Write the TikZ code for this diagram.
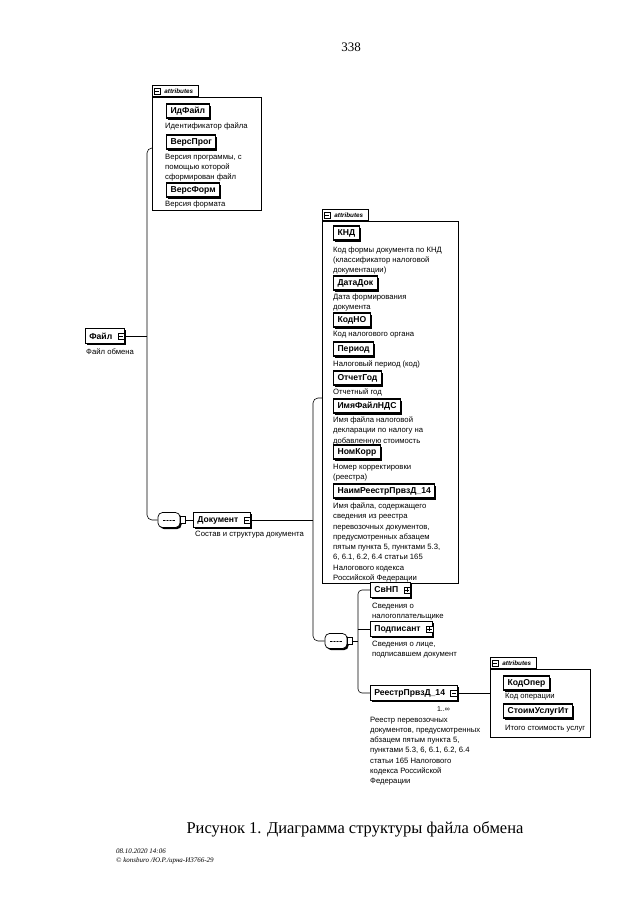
\documentclass[tikz,border=0pt]{standalone}
\usepackage{fontspec}
\setmainfont{Liberation Serif}
\newfontfamily\arialf{Liberation Sans}
\usetikzlibrary{shadows}
\tikzset{
 shad/.style={drop shadow={shadow xshift=1.6pt,shadow yshift=-1.6pt,opacity=1,fill=black}},
 desc/.style={anchor=north west,inner sep=0pt,align=left,font=\arialf\fontsize{7.7}{10.3}\selectfont},
 elbox/.style={draw,line width=0.7pt,fill=white,anchor=west,inner xsep=4pt,inner ysep=0pt,minimum height=14.5pt,font=\arialf\bfseries\fontsize{8.6}{10}\selectfont,shad},
 attbox/.style={elbox,line width=1.1pt,minimum height=14pt},
 grp/.style={draw,line width=0.6pt,anchor=north west,inner sep=0pt},
 tabbox/.style={draw,line width=0.6pt,fill=white,anchor=south west,inner sep=1.5pt,minimum height=11pt,minimum width=46pt,font=\arialf\bfseries\itshape\fontsize{6.3}{7}\selectfont},
 sym/.style={draw,fill=white,line width=0.5pt,minimum size=6.5pt,inner sep=0pt},
 minus/.style={sym,path picture={\draw[line width=0.5pt] ([xshift=1.2pt]path picture bounding box.west) -- ([xshift=-1.2pt]path picture bounding box.east);}},
 plus/.style={sym,path picture={\draw[line width=0.5pt] ([xshift=1.2pt]path picture bounding box.west) -- ([xshift=-1.2pt]path picture bounding box.east);
   \draw[line width=0.5pt] ([yshift=1.2pt]path picture bounding box.south) -- ([yshift=-1.2pt]path picture bounding box.north);}},
 seqc/.style={draw,fill=white,line width=0.7pt,rounded corners=4.5pt,minimum width=22pt,minimum height=15pt,inner sep=0pt,shad,
   path picture={\draw[line width=0.5pt] ([xshift=-6pt]path picture bounding box.center) -- ([xshift=6pt]path picture bounding box.center);
   \foreach \d in {-3,0,3} \fill ([xshift=\d pt]path picture bounding box.center) circle (0.8pt);}},
 port/.style={draw,fill=white,line width=0.5pt,minimum width=5pt,minimum height=7pt,inner sep=0pt,anchor=west},
 conn/.style={line width=0.6pt},
}
\begin{document}
\begin{tikzpicture}[x=1pt,y=-1pt]
\useasboundingbox (0,0) rectangle (640,905);
\fill[white] (0,0) rectangle (640,905);

\node[font=\fontsize{13}{15}\selectfont] (pg) at (351,47) {338};

% ---------- group 1 (attributes of Файл)
\node[grp,minimum width=109pt,minimum height=113pt] (g1) at (152,97) {};
\node[tabbox] (t1) at (g1.north west) {\kern7pt attributes};
\node[minus] (t1s) at ([xshift=5pt]t1.west) {};
\node[attbox] (idf) at (166,111) {ИдФайл};
\node[desc] (didf) at (165,122.5) {Идентификатор файла};
\node[attbox] (vprog) at (166,142) {ВерсПрог};
\node[desc] (dvprog) at (165,153.5) {Версия программы, с\\помощью которой\\сформирован файл};
\node[attbox] (vform) at (166,190) {ВерсФорм};
\node[desc] (dvform) at (165,200.5) {Версия формата};

% ---------- Файл
\node[elbox] (fajl) at (85,336) {Файл\kern8pt};
\node[minus] (fajls) at ([xshift=-3.5pt]fajl.east) {};
\node[desc] (dfajl) at (86,348.5) {Файл обмена};

\coordinate (v1t) at (147,148);
\coordinate (v1b) at (147,520);

% ---------- sequence 1 and Документ
\node[seqc] (seq1) at (169,520) {};
\node[port] (p1) at (seq1.east) {};
\node[elbox] (doc) at (193,520) {Документ\kern8pt};
\node[minus] (docs) at ([xshift=-3.5pt]doc.east) {};
\node[desc] (ddoc) at (195,530.5) {Состав и структура документа};

\draw[conn,rounded corners=5pt] (g1.west |- v1t) -- (v1t) -- (v1b) -- (seq1.west);
\draw[conn] (fajls.east) -- (fajls -| v1t);
\draw[conn] (p1.east) -- (doc.west);

% ---------- group 2 (attributes of Документ)
\node[grp,minimum width=136pt,minimum height=362pt] (g2) at (322,221) {};
\node[tabbox] (t2) at (g2.north west) {\kern7pt attributes};
\node[minus] (t2s) at ([xshift=5pt]t2.west) {};
\node[attbox] (knd) at (333,233) {КНД};
\node[desc] at (333,246.5) {Код формы документа по КНД\\(классификатор налоговой\\документации)};
\node[attbox] (datadok) at (333,283) {ДатаДок};
\node[desc] at (333,293.5) {Дата формирования\\документа};
\node[attbox] (kodno) at (333,320) {КодНО};
\node[desc] at (333,330.5) {Код налогового органа};
\node[attbox] (period) at (333,349) {Период};
\node[desc] at (333,360.5) {Налоговый период (код)};
\node[attbox] (otchgod) at (333,378) {ОтчетГод};
\node[desc] at (333,388.5) {Отчетный год};
\node[attbox] (imyaf) at (333,406) {ИмяФайлНДС};
\node[desc] at (333,416.5) {Имя файла налоговой\\декларации по налогу на\\добавленную стоимость};
\node[attbox] (nomkorr) at (333,452) {НомКорр};
\node[desc] at (333,463.5) {Номер корректировки\\(реестра)};
\node[attbox] (naim) at (333,491) {НаимРеестрПрвзД\_14};
\node[desc] at (333,502.5) {Имя файла, содержащего\\сведения из реестра\\перевозочных документов,\\предусмотренных абзацем\\пятым пункта 5, пунктами 5.3,\\6, 6.1, 6.2, 6.4 статьи 165\\Налогового кодекса\\Российской Федерации};

\coordinate (v2t) at (313,398);
\coordinate (v2b) at (313,641);
\node[seqc] (seq2) at (336,641) {};
\node[port] (p2) at (seq2.east) {};

\draw[conn,rounded corners=5pt] (g2.west |- v2t) -- (v2t) -- (v2b) -- (seq2.west);
\draw[conn] (docs.east) -- (docs -| v2t);

% ---------- children of sequence 2
\node[elbox] (svnp) at (370,590) {СвНП\kern8pt};
\node[plus] (svnps) at ([xshift=-3.5pt]svnp.east) {};
\node[desc] at (372,602.5) {Сведения о\\налогоплательщике};
\node[elbox] (podp) at (370,629) {Подписант\kern8pt};
\node[plus] (podps) at ([xshift=-3.5pt]podp.east) {};
\node[desc] at (372,640.5) {Сведения о лице,\\подписавшем документ};
\node[elbox] (reestr) at (370,693) {РеестрПрвзД\_14\kern8pt};
\node[minus] (reestrs) at ([xshift=-3.5pt]reestr.east) {};
\node[anchor=east,inner sep=0pt,font=\arialf\fontsize{7}{8}\selectfont] (mult) at (450,709) {1..∞};
\node[desc] at (370,716.5) {Реестр перевозочных\\документов, предусмотренных\\абзацем пятым пункта 5,\\пунктами 5.3, 6, 6.1, 6.2, 6.4\\статьи 165 Налогового\\кодекса Российской\\Федерации};

\coordinate (v3) at (358,641);
\draw[conn,rounded corners=4pt] (svnp.west) -- (svnp -| v3) -- (reestr -| v3) -- (reestr.west);
\draw[conn] (p2.east) -- (v3);
\draw[conn] (podp -| v3) -- (podp.west);

% ---------- group 3 (attributes of РеестрПрвзД_14)
\node[grp,minimum width=100pt,minimum height=68pt] (g3) at (490,669) {};
\node[tabbox] (t3) at (g3.north west) {\kern7pt attributes};
\node[minus] (t3s) at ([xshift=5pt]t3.west) {};
\node[attbox] (kodoper) at (503,683) {КодОпер};
\node[desc] at (505,692.5) {Код операции};
\node[attbox] (stoim) at (503,711) {СтоимУслугИт};
\node[desc] at (505,725) {Итого стоимость услуг};
\draw[conn] (reestrs.east) -- (reestrs -| g3.west);

% ---------- caption and footer
\node[font=\fontsize{16.5}{18}\selectfont] (cap) at (355,829) {Рисунок 1. Диаграмма структуры файла обмена};
\node[anchor=north west,inner sep=0pt,align=left,font=\itshape\fontsize{7}{9}\selectfont] (foot) at (116,849) {08.10.2020 14:06\\© konsburo /Ю.Р./ирна-И3766-29};
\end{tikzpicture}
\end{document}
